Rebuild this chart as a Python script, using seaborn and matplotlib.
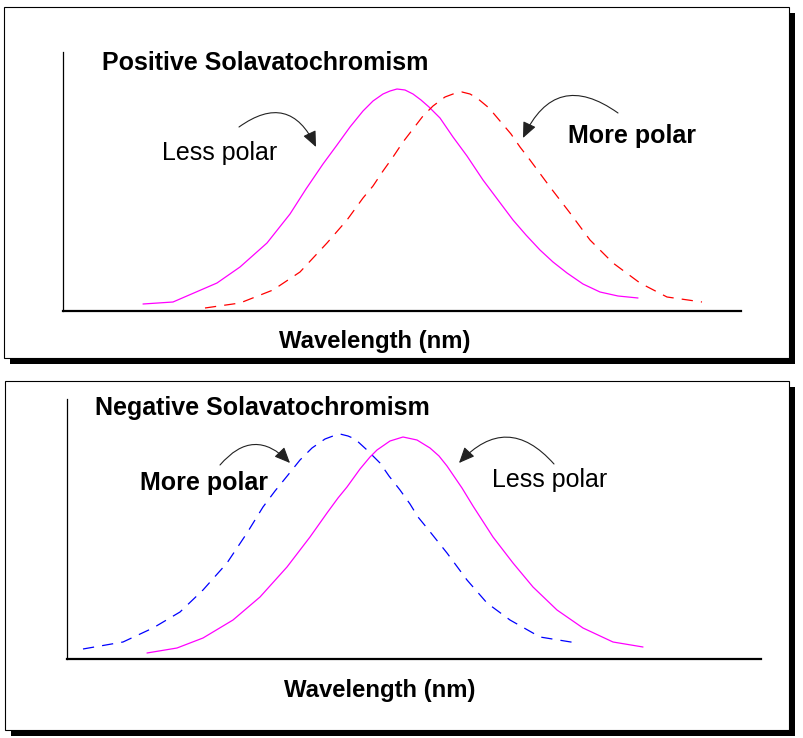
import pandas as pd
import matplotlib.pyplot as plt
import seaborn as sns
from matplotlib.patches import Rectangle

# ---- absorption curves (arbitrary units) ----
# Positive solvatochromism
pos_less_wl = [80, 110, 154, 177, 204, 227, 243, 260, 274, 287, 300, 310, 320, 327, 334, 342, 350, 358, 366,
               377, 390, 404, 420, 435, 450, 463, 477, 490, 504, 520, 537, 555, 575]
pos_less_int = [7, 9, 28, 44, 68, 97, 122, 147, 166, 184, 200, 210, 217, 220, 222, 221, 217, 211, 204,
                193, 174, 155, 131, 111, 91, 76, 61, 49, 38, 27, 19, 15, 13]
pos_more_wl = [142, 177, 210, 237, 264, 284, 300, 310, 320, 330, 340, 350, 360, 370, 382, 390, 399, 407, 414,
               426, 437, 448, 457, 467, 487, 507, 527, 550, 577, 604, 639]
pos_more_int = [3, 8, 21, 39, 68, 91, 113, 125, 140, 154, 169, 182, 195, 205, 214, 217, 219, 217, 213,
                203, 190, 177, 164, 151, 124, 98, 71, 48, 28, 14, 9]

# Negative solvatochromism
neg_more_wl = [16, 56, 86, 113, 136, 160, 180, 196, 208, 221, 233, 245, 258, 266, 273, 281, 288, 300, 313,
               322, 333, 343, 351, 360, 380, 400, 420, 443, 473, 510]
neg_more_int = [10, 17, 31, 47, 69, 96, 126, 152, 168, 184, 199, 211, 220, 223, 225, 223, 220, 209, 196,
                183, 169, 155, 142, 131, 106, 79, 56, 39, 22, 16]
neg_less_wl = [80, 110, 136, 166, 193, 220, 243, 260, 271, 280, 293, 303, 310, 323, 336, 350, 363, 372, 380,
               395, 406, 426, 446, 466, 490, 516, 546, 576]
neg_less_int = [6, 11, 21, 39, 62, 92, 122, 146, 161, 172, 190, 202, 209, 218, 222, 219, 211, 203, 193,
                171, 153, 122, 96, 72, 49, 31, 17, 12]

W, H = 804, 738

sns.set_style("white")
plt.rcParams['font.family'] = ['Liberation Sans', 'DejaVu Sans']

fig = plt.figure(figsize=(W / 100, H / 100), dpi=100)

# background layer in pixel coordinates (boxes, labels, arrows)
bg = fig.add_axes([0, 0, 1, 1])
bg.set_xlim(0, W)
bg.set_ylim(H, 0)
bg.axis("off")


def panel_box(x0, y0, x1, y1):
    bg.add_patch(Rectangle((x0 + 6, y0 + 6), x1 - x0, y1 - y0, facecolor="black", edgecolor="none", zorder=1))
    bg.add_patch(Rectangle((x0, y0), x1 - x0, y1 - y0, facecolor="white", edgecolor="black", linewidth=0.8, zorder=2))


panel_box(4, 7, 789, 358)
panel_box(5, 381, 789, 730)


def data_axes(left, bottom_y, right, top_y):
    ax = fig.add_axes([left / W, 1 - bottom_y / H, (right - left) / W, (bottom_y - top_y) / H])
    ax.patch.set_visible(False)
    for s in ["top", "right"]:
        ax.spines[s].set_visible(False)
    ax.spines["left"].set_linewidth(0.9)
    ax.spines["bottom"].set_linewidth(1.6)
    ax.spines["left"].set_color("black")
    ax.spines["bottom"].set_color("black")
    ax.set_xticks([])
    ax.set_yticks([])
    return ax


def curve(ax, wl, inten, color, ls):
    df = pd.DataFrame({"wavelength": wl, "intensity": inten})
    sns.lineplot(data=df, x="wavelength", y="intensity", ax=ax, color=color,
                 linewidth=0.9, linestyle=ls, legend=False)


dash = (0, (9, 6.5))

ax1 = data_axes(63, 311, 741, 52)
curve(ax1, pos_less_wl, pos_less_int, "#ff00ff", "-")
curve(ax1, pos_more_wl, pos_more_int, "#ff0000", dash)
ax1.set_xlim(0, 678)
ax1.set_ylim(0, 259)
ax1.set_xlabel("")
ax1.set_ylabel("")

ax2 = data_axes(67, 659, 761, 399)
curve(ax2, neg_more_wl, neg_more_int, "#0000ff", dash)
curve(ax2, neg_less_wl, neg_less_int, "#ff00ff", "-")
ax2.set_xlim(0, 694)
ax2.set_ylim(0, 260)
ax2.set_xlabel("")
ax2.set_ylabel("")

texts = [
    (102, 70, "Positive Solavatochromism", "bold", 18),
    (162, 160, "Less polar", "normal", 18),
    (568, 143, "More polar", "bold", 18),
    (279, 348, "Wavelength (nm)", "bold", 17.2),
    (95, 415, "Negative Solavatochromism", "bold", 18),
    (140, 490, "More polar", "bold", 18),
    (492, 487, "Less polar", "normal", 18),
    (284, 697, "Wavelength (nm)", "bold", 17.2),
]
for x, y, s, w, fs in texts:
    bg.text(x, y, s, fontsize=fs, fontweight=w, color="black", ha="left", va="baseline", zorder=5)

arrows = [
    ((239, 127), (316, 147), -0.6),
    ((618, 113), (523, 138), 0.6),
    ((220, 465), (290, 463), -0.55),
    ((554, 464), (459, 463), 0.55),
]
for tail, head, rad in arrows:
    bg.annotate("", xy=head, xytext=tail, zorder=5,
                arrowprops=dict(arrowstyle="-|>,head_length=0.8,head_width=0.35",
                                connectionstyle=f"arc3,rad={rad}", color="#222222",
                                linewidth=0.8, mutation_scale=12, shrinkA=0, shrinkB=0))

fig.savefig("out.png", dpi=100)
